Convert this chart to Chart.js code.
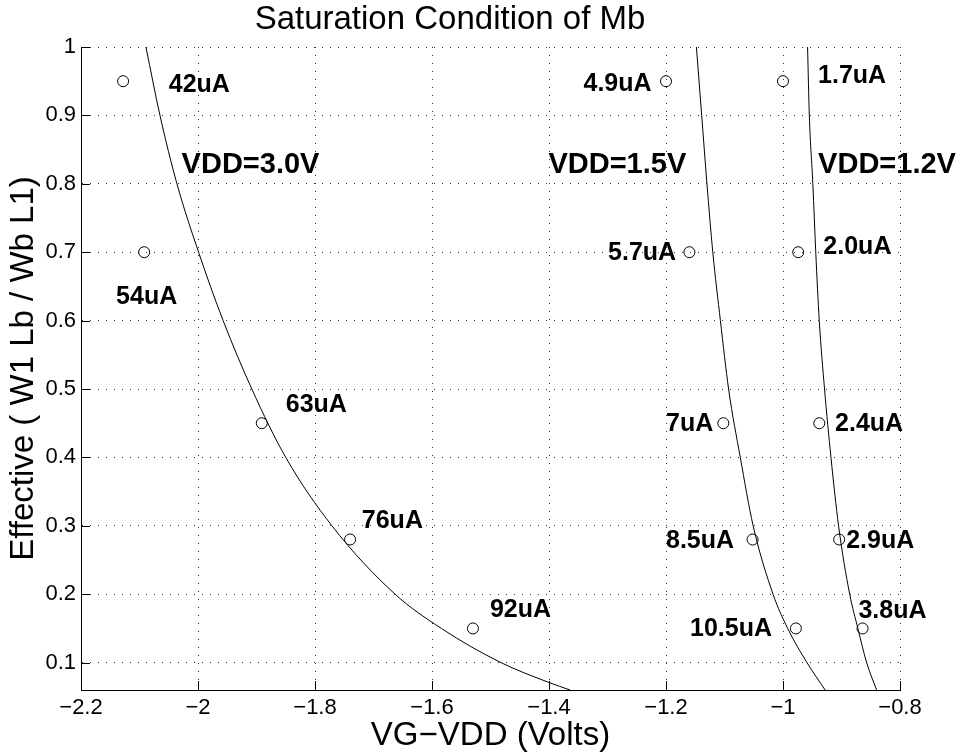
<!DOCTYPE html>
<html>
<head>
<meta charset="utf-8">
<title>Saturation Condition of Mb</title>
<script src="https://cdn.jsdelivr.net/npm/chart.js@4.4.1/dist/chart.umd.min.js"></script>
<style>
  html, body { margin: 0; padding: 0; background: #fff; }
  canvas { display: block; }
</style>
</head>
<body>
<canvas id="satChart" width="959" height="756"></canvas>
<script>
const FONT = "'Liberation Sans', Arial, Helvetica, sans-serif";

// axis ticks
const xTicks = [-2.2, -2.0, -1.8, -1.6, -1.4, -1.2, -1.0, -0.8];
const yTicks = [0.1, 0.2, 0.3, 0.4, 0.5, 0.6, 0.7, 0.8, 0.9, 1.0];

// measured points (circles), same ratios for every supply
const ratioPts = [0.95, 0.70, 0.45, 0.28, 0.15];
const vg30 = [-2.128, -2.092, -1.891, -1.740, -1.530];
const vg15 = [-1.200, -1.160, -1.102, -1.052, -0.978];
const vg12 = [-1.000, -0.974, -0.938, -0.904, -0.864];
const amps30 = ['42uA', '54uA', '63uA', '76uA', '92uA'];
const amps15 = ['4.9uA', '5.7uA', '7uA', '8.5uA', '10.5uA'];
const amps12 = ['1.7uA', '2.0uA', '2.4uA', '2.9uA', '3.8uA'];

// saturation boundary curves
const fitX30 = [-2.089, -2.065, -2.036, -1.999, -1.957, -1.908, -1.850, -1.771, -1.663, -1.584, -1.482, -1.400, -1.364];
const fitY30 = [1.0, 0.9, 0.8, 0.7, 0.6, 0.5, 0.4, 0.3, 0.2, 0.15, 0.1, 0.071, 0.06];
const fitX15 = [-1.148, -1.139, -1.130, -1.120, -1.107, -1.093, -1.073, -1.051, -1.017, -0.992, -0.959, -0.928];
const fitX12 = [-0.958, -0.955, -0.949, -0.944, -0.938, -0.929, -0.918, -0.905, -0.886, -0.872, -0.857, -0.840];
const fitY = [1.0, 0.9, 0.8, 0.7, 0.6, 0.5, 0.4, 0.3, 0.2, 0.15, 0.1, 0.06];

// where the text labels sit (left edge, middle), in axis units
const labelX30 = [-2.050, -2.140, -1.850, -1.720, -1.501];
const labelY30 = [0.945, 0.635, 0.477, 0.307, 0.177];
const labelX15 = [-1.341, -1.299, -1.200, -1.200, -1.159];
const labelY15 = [0.946, 0.698, 0.449, 0.278, 0.149];
const labelX12 = [-0.940, -0.931, -0.911, -0.892, -0.871];
const labelY12 = [0.958, 0.708, 0.449, 0.278, 0.176];
const vddText = ['VDD=3.0V', 'VDD=1.5V', 'VDD=1.2V'];
const vddX = [-2.028, -1.401, -0.940];
const vddY = [0.828, 0.828, 0.828];

const toXY = (xs, ys) => xs.map((v, i) => ({ x: v, y: ys[i] }));

function curveSet(xs, ys) {
  return {
    data: toXY(xs, ys),
    showLine: true,
    borderColor: '#000',
    borderWidth: 1,
    pointRadius: 0,
    cubicInterpolationMode: 'monotone',
    fill: false
  };
}

function pointSet(xs) {
  return {
    data: toXY(xs, ratioPts),
    showLine: false,
    pointStyle: 'circle',
    pointRadius: 5.5,
    borderColor: '#000',
    borderWidth: 1,
    backgroundColor: 'rgba(0,0,0,0)'
  };
}

const textLabels = {
  id: 'textLabels',
  afterDatasetsDraw(chart) {
    const { ctx, scales: { x, y } } = chart;
    ctx.save();
    ctx.fillStyle = '#000';
    ctx.textAlign = 'left';
    ctx.textBaseline = 'middle';
    ctx.font = 'bold 25px ' + FONT;
    [[amps30, labelX30, labelY30], [amps15, labelX15, labelY15], [amps12, labelX12, labelY12]].forEach(([txt, lx, ly]) => {
      txt.forEach((t, i) => ctx.fillText(t, x.getPixelForValue(lx[i]), y.getPixelForValue(ly[i])));
    });
    ctx.font = 'bold 29px ' + FONT;
    vddText.forEach((t, i) => ctx.fillText(t, x.getPixelForValue(vddX[i]), y.getPixelForValue(vddY[i])));
    ctx.restore();
  }
};

// MATLAB style inward ticks on left and bottom axes
const inTicks = {
  id: 'inTicks',
  afterDatasetsDraw(chart) {
    const { ctx, chartArea: a, scales: { x, y } } = chart;
    const len = 9;
    ctx.save();
    ctx.strokeStyle = '#000';
    ctx.lineWidth = 1;
    ctx.beginPath();
    xTicks.forEach(v => {
      const px = Math.round(x.getPixelForValue(v)) + 0.5;
      ctx.moveTo(px, a.bottom);
      ctx.lineTo(px, a.bottom - len);
    });
    yTicks.forEach(v => {
      const py = Math.round(y.getPixelForValue(v)) + 0.5;
      ctx.moveTo(a.left, py);
      ctx.lineTo(a.left + len, py);
    });
    ctx.stroke();
    ctx.restore();
  }
};

const fmtTick = v => (v < 0 ? '\u2212' : '') + String(+Math.abs(v).toFixed(1));

const ctx = document.getElementById('satChart').getContext('2d');
const satChart = new Chart(ctx, {
  type: 'scatter',
  data: {
    datasets: [
      curveSet(fitX30, fitY30),
      curveSet(fitX15, fitY),
      curveSet(fitX12, fitY),
      pointSet(vg30),
      pointSet(vg15),
      pointSet(vg12)
    ]
  },
  options: {
    responsive: false,
    animation: false,
    devicePixelRatio: 1,
    layout: { padding: { left: 0, right: 59, top: 0, bottom: 0 } },
    plugins: {
      legend: { display: false },
      tooltip: { enabled: false },
      title: {
        display: true,
        text: 'Saturation Condition of Mb',
        color: '#000',
        font: { family: FONT, size: 33, weight: 'normal' },
        padding: { top: 0, bottom: 7.4 }
      }
    },
    scales: {
      x: {
        type: 'linear',
        min: -2.2,
        max: -0.8,
        afterBuildTicks: axis => { axis.ticks = xTicks.map(v => ({ value: v })); },
        afterFit: axis => { axis.height = 66; },
        ticks: {
          autoSkip: false,
          maxRotation: 0,
          padding: 5,
          color: '#000',
          font: { family: FONT, size: 22 },
          callback: fmtTick
        },
        grid: { color: '#333', lineWidth: 1, drawTicks: false },
        border: { display: true, color: '#000', width: 1, dash: [1, 7] },
        title: {
          display: true,
          text: 'VG\u2212VDD (Volts)',
          color: '#000',
          font: { family: FONT, size: 33 },
          padding: 0
        }
      },
      y: {
        type: 'linear',
        min: 0.06,
        max: 1,
        afterBuildTicks: axis => { axis.ticks = yTicks.map(v => ({ value: v })); },
        afterFit: axis => { axis.width = 81; },
        ticks: {
          autoSkip: false,
          padding: 5,
          color: '#000',
          font: { family: FONT, size: 22 },
          callback: fmtTick
        },
        grid: { color: '#333', lineWidth: 1, drawTicks: false },
        border: { display: true, color: '#000', width: 1, dash: [1, 7] },
        title: {
          display: true,
          text: 'Effective ( W1 Lb / Wb L1)',
          color: '#000',
          font: { family: FONT, size: 33 },
          padding: { top: 4, bottom: 0 }
        }
      }
    }
  },
  plugins: [textLabels, inTicks]
});
</script>
</body>
</html>
